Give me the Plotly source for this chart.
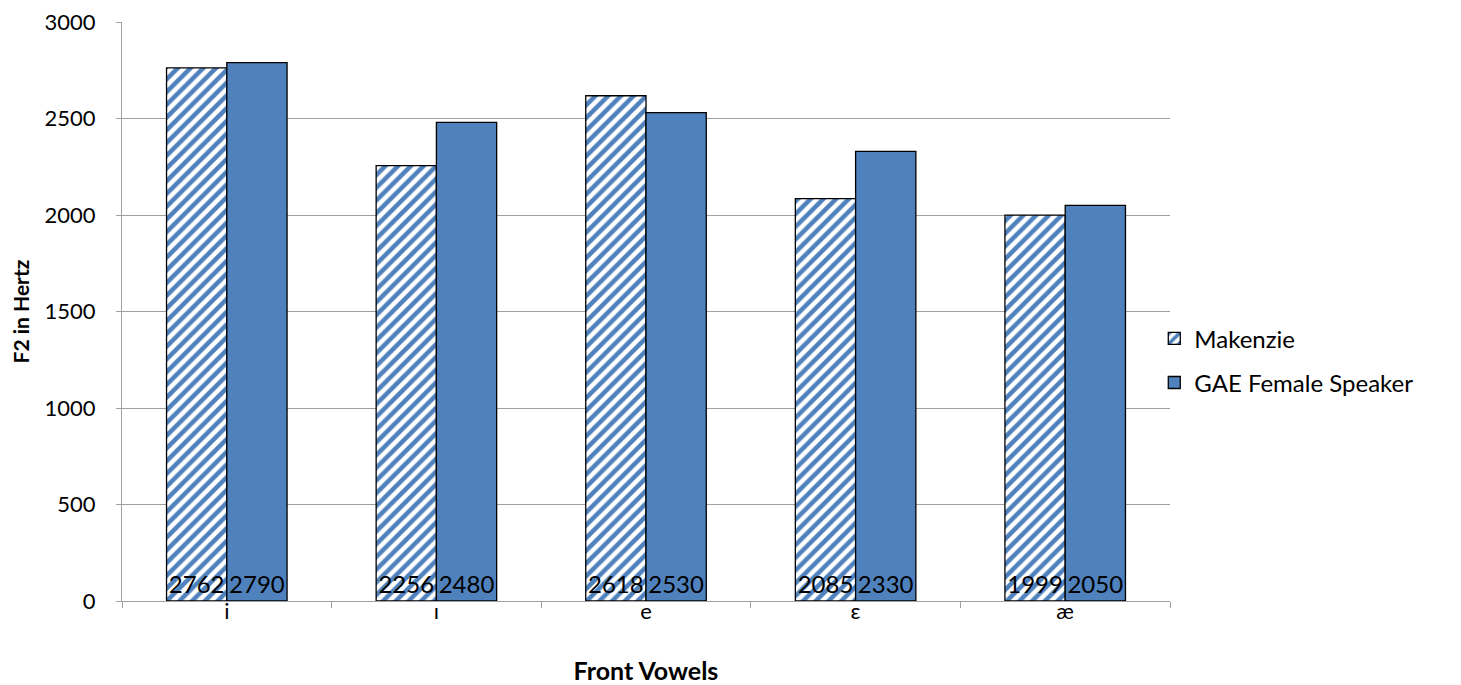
import plotly.graph_objects as go

categories = ["i", "ı", "e", "ɛ", "æ"]
makenzie = [2762, 2256, 2618, 2085, 1999]
gae = [2790, 2480, 2530, 2330, 2050]
y_ticks = [0, 500, 1000, 1500, 2000, 2500, 3000]

FONT = "Lato, Noto Sans, sans-serif"
BLUE = "#4F81BD"
GRID = "#A0A0A0"
LABEL_SIZE = 24

fig = go.Figure()
fig.add_trace(go.Bar(
    name="Makenzie", x=categories, y=makenzie, legendgroup="a",
    text=[str(v) for v in makenzie], textposition="inside", insidetextanchor="start",
    textangle=0, constraintext="none",
    textfont=dict(size=LABEL_SIZE, color="black", family=FONT),
    marker=dict(color="white", line=dict(color="black", width=1.3),
                pattern=dict(shape="/", fgcolor=BLUE, bgcolor="white", fgopacity=1,
                             size=9, solidity=0.5)),
))
fig.add_trace(go.Bar(
    name="GAE Female Speaker", x=categories, y=gae, legendgroup="b",
    text=[str(v) for v in gae], textposition="inside", insidetextanchor="start",
    textangle=0, constraintext="none",
    textfont=dict(size=LABEL_SIZE, color="black", family=FONT),
    marker=dict(color=BLUE, line=dict(color="black", width=1.3)),
))

fig.update_layout(
    width=1453, height=677,
    margin=dict(l=114, r=291, t=14, b=84, autoexpand=False),
    paper_bgcolor="white", plot_bgcolor="white",
    barmode="group", bargap=0.425, bargroupgap=0,
    font=dict(family=FONT, size=20, color="black"),
    uniformtext=dict(mode="show", minsize=LABEL_SIZE),
    legend=dict(x=0.985, y=0.415, xanchor="left", yanchor="middle",
                font=dict(size=24, family=FONT), tracegroupgap=10,
                bgcolor="rgba(0,0,0,0)"),
    xaxis=dict(
        title=dict(text="<b>Front Vowels</b>", font=dict(size=25, family=FONT), standoff=43),
        showline=True, linecolor=GRID, linewidth=1,
        ticks="outside", tickson="boundaries", ticklen=6, tickcolor=GRID,
        ticklabelstandoff=-9,
        tickfont=dict(size=22, family=FONT), automargin=False,
    ),
    yaxis=dict(
        title=dict(text="<b>F2 in Hertz</b>", font=dict(size=21, family=FONT), standoff=16),
        range=[0, 3000], tickvals=y_ticks,
        showline=True, linecolor=GRID, linewidth=1,
        showgrid=True, gridcolor=GRID, gridwidth=1,
        ticks="outside", ticklen=5, tickcolor=GRID, ticklabelstandoff=16,
        ticklabeloverflow="allow",
        tickfont=dict(size=22, family=FONT), zeroline=False, automargin=False,
    ),
)

fig.write_html("out.html")
